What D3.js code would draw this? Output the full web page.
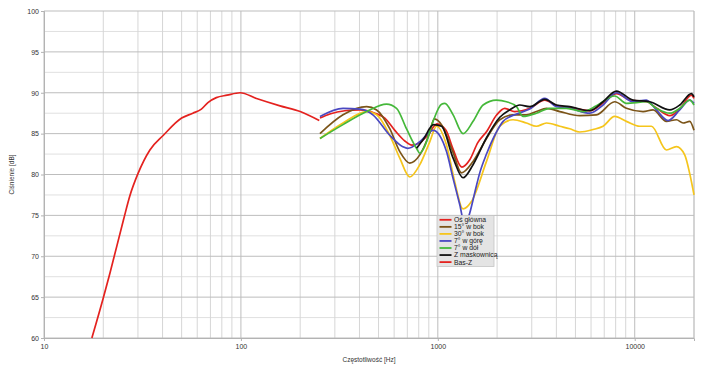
<!DOCTYPE html>
<html>
<head>
<meta charset="utf-8">
<script src="https://cdn.jsdelivr.net/npm/d3@7"></script>
<style>
  body { margin: 0; background: #fff; }
  svg { display: block; font-family: "Liberation Sans", Arial, sans-serif; }
</style>
</head>
<body>
<svg id="chart" width="708" height="372"></svg>
<script>
// series names + colours (legend order)
const seriesNames = ['Oś główna', '15° w bok', '30° w bok', '7° w górę', '7° w dół', 'Z maskownicą', 'Bas-Z'];
const seriesColors = ['#e4221f', '#7b5418', '#f5c51c', '#4a48c2', '#45b83a', '#111111', '#e4221f'];

// [frequency Hz, SPL dB]
const osGlowna = [[252,86.9],[283,87.4],[337,87.8],[402,87.9],[479,87.5],[538,86.9],[605,85.4],[680,84.1],[738,83.6],[810,83.9],[890,84.8],[990,86.2],[1100,85.4],[1191,83.2],[1324,80.9],[1453,81.8],[1596,83.9],[1774,85.3],[1992,87.3],[2188,88.1],[2459,87.7],[2931,88.1],[3493,89.1],[4018,88.4],[4680,88.2],[5913,87.8],[6883,88.7],[8090,89.9],[9438,89.1],[11500,88.9],[12930,88.1],[15070,87.2],[16930,88.0],[19400,89.7],[20000,89.3]];
const bok15 = [[252,85.0],[330,87.3],[435,88.3],[489,87.9],[570,85.6],[641,82.8],[720,81.4],[810,82.4],[900,84.8],[960,86.8],[1050,86.0],[1191,82.8],[1319,80.2],[1510,81.6],[1767,84.4],[2064,86.7],[2402,87.3],[2818,87.3],[3168,87.7],[3564,88.1],[4163,87.7],[5260,87.2],[6390,87.3],[7910,88.9],[9070,88.1],[11020,87.7],[12390,87.9],[14490,86.5],[16290,86.7],[17600,86.3],[19030,86.5],[20000,85.4]];
const bok30 = [[252,84.4],[330,86.3],[435,87.7],[489,87.3],[570,84.8],[641,82.0],[720,79.7],[810,81.2],[910,84.0],[985,85.9],[1107,83.6],[1219,79.1],[1343,75.8],[1482,76.7],[1767,81.6],[2064,85.9],[2410,86.7],[2818,86.3],[3168,85.9],[3564,86.3],[4163,85.9],[4680,85.6],[5260,85.2],[6145,85.5],[6907,85.9],[7910,87.1],[9070,86.5],[10600,85.9],[12160,85.9],[14490,83.0],[16290,83.4],[17940,82.4],[19030,80.1],[20000,77.5]];
const gora7 = [[252,87.1],[330,88.1],[402,88.0],[468,87.3],[570,84.8],[664,83.4],[704,83.2],[810,84.0],[946,85.4],[1107,82.8],[1196,79.5],[1293,76.3],[1371,73.8],[1453,75.3],[1541,77.8],[1633,80.2],[1767,82.5],[1986,85.2],[2146,86.5],[2510,87.4],[2931,88.0],[3493,89.3],[4003,88.3],[4680,88.1],[5913,87.5],[6907,88.5],[8070,90.0],[9800,88.9],[11460,89.1],[12880,87.9],[14760,86.6],[16930,87.9],[19030,89.1],[20000,88.7]];
const dol7 = [[252,84.4],[330,86.1],[435,87.7],[549,88.6],[617,88.1],[693,85.6],[779,83.2],[810,82.6],[860,83.5],[946,86.5],[1044,88.6],[1086,88.7],[1196,87.3],[1343,85.0],[1510,86.5],[1698,88.5],[1986,89.1],[2233,88.9],[2510,88.3],[2711,87.1],[3168,87.5],[3704,88.1],[4500,88.1],[5467,87.7],[6390,88.4],[7910,89.6],[9070,88.7],[11460,88.9],[12880,88.1],[15070,87.5],[16930,88.1],[19030,89.1],[20000,88.5]];
const maskownica = [[780,83.2],[850,84.4],[950,86.1],[1044,85.9],[1196,82.0],[1343,79.6],[1510,81.2],[1767,84.5],[2064,87.0],[2318,87.9],[2608,88.5],[2931,88.3],[3493,89.2],[4003,88.5],[4680,88.3],[5913,87.8],[6907,88.9],[8070,90.2],[9800,89.1],[11920,88.9],[15070,87.9],[16930,88.5],[19400,89.9],[20000,89.5]];
const basZ = [[17.5,60],[20,64.9],[21.6,67.9],[25.3,74.4],[27.3,77.4],[30,80.1],[34.5,83.0],[40.4,84.8],[50,86.9],[57,87.5],[63,88.0],[68,88.8],[75,89.4],[85,89.7],[99,90.0],[120,89.3],[158,88.4],[200,87.7],[250,86.6]];

const seriesData = [osGlowna, bok15, bok30, gora7, dol7, maskownica, basZ];

const xTicks = [10, 100, 1000, 10000];
const yTicks = [60, 65, 70, 75, 80, 85, 90, 95, 100];

const svg = d3.select('#chart');
const margin = { top: 11, right: 14, bottom: 34, left: 44 };
const width = 708, height = 372;

const x = d3.scaleLog().domain([10, 20000]).range([margin.left, width - margin.right]);
const y = d3.scaleLinear().domain([60, 100]).range([height - margin.bottom, margin.top]);

// minor grid (2.5 dB and 2..9 multiples)
const minorY = d3.range(62.5, 100, 5);
svg.append('g').selectAll('line').data(minorY).join('line')
  .attr('x1', x(10)).attr('x2', x(20000))
  .attr('y1', d => y(d)).attr('y2', d => y(d))
  .attr('stroke', '#e0e0e0').attr('stroke-width', 1);

const minorX = [];
[10, 100, 1000, 10000].forEach(dec => {
  for (let m = 2; m <= 9; m++) if (dec * m <= 20000) minorX.push(dec * m);
});
svg.append('g').selectAll('line').data(minorX).join('line')
  .attr('x1', d => x(d)).attr('x2', d => x(d))
  .attr('y1', y(60)).attr('y2', y(100))
  .attr('stroke', '#d6d6d6').attr('stroke-width', 1);

// major grid
svg.append('g').selectAll('line').data(yTicks).join('line')
  .attr('x1', x(10)).attr('x2', x(20000))
  .attr('y1', d => y(d)).attr('y2', d => y(d))
  .attr('stroke', '#bdbdbd').attr('stroke-width', 1);
svg.append('g').selectAll('line').data(xTicks.concat([20000])).join('line')
  .attr('x1', d => x(d)).attr('x2', d => x(d))
  .attr('y1', y(60)).attr('y2', y(100))
  .attr('stroke', '#bdbdbd').attr('stroke-width', 1);

// axes
const yAxis = d3.axisLeft(y).tickValues(yTicks).tickSize(3).tickPadding(2);
svg.append('g').attr('transform', `translate(${margin.left},0)`).call(yAxis)
  .call(g => g.select('.domain').attr('stroke', '#b3b3b3'))
  .call(g => g.selectAll('.tick line').attr('stroke', '#b3b3b3'))
  .call(g => g.selectAll('text').attr('font-size', 7).attr('fill', '#333'));

const xAxis = d3.axisBottom(x).tickValues(xTicks).tickFormat(d3.format('d')).tickSize(3).tickPadding(3);
svg.append('g').attr('transform', `translate(0,${y(60)})`).call(xAxis)
  .call(g => g.select('.domain').attr('stroke', '#b3b3b3'))
  .call(g => g.selectAll('.tick line').attr('stroke', '#b3b3b3'))
  .call(g => g.selectAll('text').attr('font-size', 7).attr('fill', '#333'));

// axis titles
svg.append('text')
  .attr('transform', `translate(14,${(y(60) + y(100)) / 2}) rotate(-90)`)
  .attr('text-anchor', 'middle').attr('font-size', 6.5).attr('fill', '#333')
  .text('Ciśnienie [dB]');
svg.append('text')
  .attr('x', (x(10) + x(20000)) / 2).attr('y', 362)
  .attr('text-anchor', 'middle').attr('font-size', 6.5).attr('fill', '#333')
  .text('Częstotliwość [Hz]');

// curves
const line = d3.line()
  .x(d => x(d[0]))
  .y(d => y(d[1]))
  .curve(d3.curveMonotoneX);

svg.append('g').selectAll('path').data(seriesData).join('path')
  .attr('d', line)
  .attr('fill', 'none')
  .attr('stroke', (d, i) => seriesColors[i])
  .attr('stroke-width', 1.7)
  .attr('stroke-linejoin', 'round');

// legend
const lg = svg.append('g').attr('transform', 'translate(437,215.5)');
lg.append('rect').attr('width', 57).attr('height', 51)
  .attr('fill', '#e4e4e4').attr('stroke', '#c4c4c4').attr('stroke-width', 0.8);
const items = lg.selectAll('g').data(seriesNames).join('g')
  .attr('transform', (d, i) => `translate(0,${4.3 + i * 7.05})`);
items.append('line').attr('x1', 2.5).attr('x2', 14.5)
  .attr('stroke', (d, i) => seriesColors[i]).attr('stroke-width', 1.8);
items.append('text').attr('x', 17).attr('y', 2.4)
  .attr('font-size', 6.8).attr('fill', '#222')
  .text(d => d);
</script>
</body>
</html>
